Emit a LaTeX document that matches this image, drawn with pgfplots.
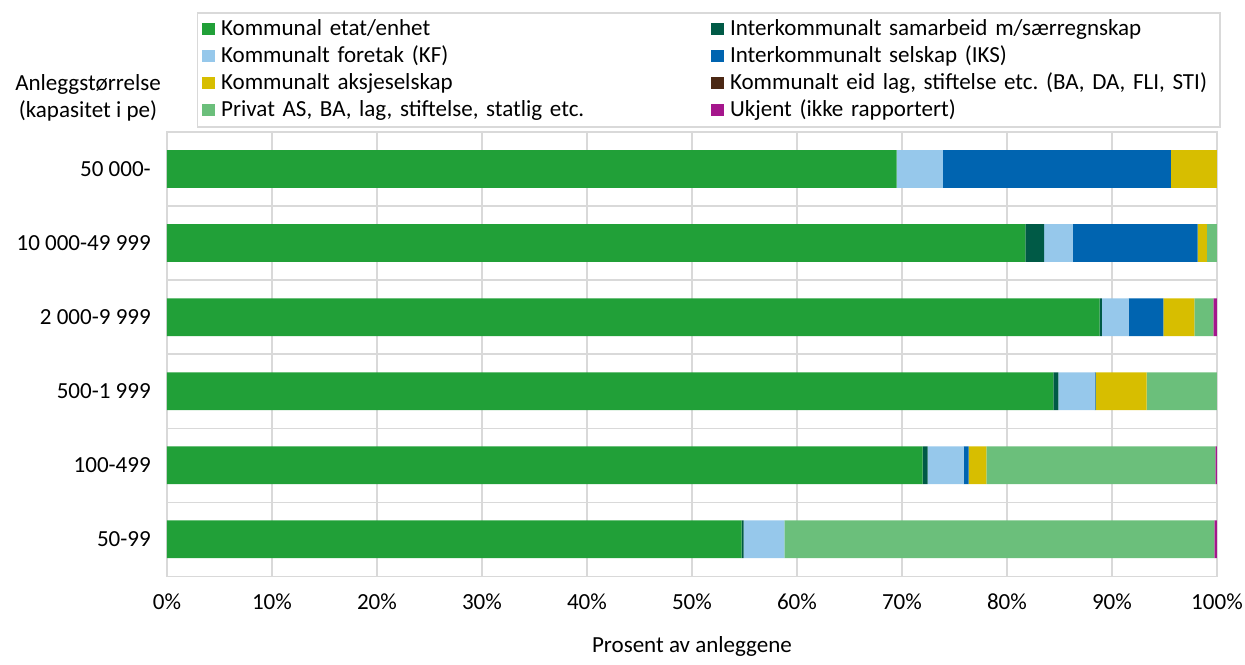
\documentclass[border=0pt]{standalone}
\usepackage{pgfplots}
\pgfplotsset{compat=1.18}
\usepackage{pgfplotstable}
\usepackage{fontspec}
\setmainfont{Carlito}
\frenchspacing

\definecolor{cEtat}{HTML}{21A038}
\definecolor{cSam}{HTML}{005A46}
\definecolor{cKF}{HTML}{96C8EB}
\definecolor{cIKS}{HTML}{0064B0}
\definecolor{cAksje}{HTML}{D7BE00}
\definecolor{cEid}{HTML}{4B2814}
\definecolor{cPrivat}{HTML}{6BBF7B}
\definecolor{cUkjent}{HTML}{A5168C}
\definecolor{gridgray}{HTML}{D9D9D9}

% y: 5 = 50 000-, ..., 0 = 50-99
\pgfplotstableread{
y  etat   sam   kf    iks   aksje privat eid ukjent
5  69.5   0     4.4   21.7  4.4   0      0   0
4  81.75  1.8   2.7   11.9  0.9   0.95   0   0
3  88.83  0.22  2.54  3.3   2.95  1.81   0   0.35
2  84.41  0.48  3.46  0.1   4.86  6.69   0   0
1  71.97  0.47  3.43  0.48  1.7   21.8   0   0.15
0  54.72  0.2   3.87  0     0     40.96  0   0.25
}\anlegg

\begin{document}
\begin{tikzpicture}
\begin{axis}[
    scale only axis,
    width=456pt, height=193pt,
    xbar stacked,
    bar width=0.51,
    xmin=0, xmax=100,
    ymin=-0.5, ymax=5.5,
    xtick={0,10,...,100},
    xticklabel={\pgfmathprintnumber{\tick}\%},
    ytick={0,1,2,3,4,5},
    yticklabels={50-99,100-499,500-1 999,2 000-9 999,10 000-49 999,50 000-},
    minor ytick={-0.5,0.5,...,5.5},
    xmajorgrids, yminorgrids,
    grid style={gridgray, line width=0.6pt},
    minor grid style={gridgray, line width=0.6pt},
    axis line style={gridgray, line width=0.6pt},
    major tick length=0pt, minor tick length=0pt,
    tick label style={font=\normalsize},
    xticklabel style={inner xsep=0pt, yshift=-4pt},
    yticklabel style={xshift=-3.5pt},
    /pgf/number format/assume math mode=true,
    xlabel={Prosent av anleggene},
    xlabel style={yshift=-5pt},
    every axis plot/.append style={draw=none},
    legend columns=2,
    legend cell align=left,
    legend style={
        at={(rel axis cs:0.0286,1.010)}, anchor=south west,
        draw=gridgray, line width=0.6pt,
        column sep=2pt, row sep=1.4pt,
        inner sep=2pt,
        nodes={text width=210pt, align=left, inner sep=0.8pt, font=\normalsize},
    },
    legend image code/.code={\fill[#1] (0pt,-2.7pt) rectangle (5.4pt,2.7pt);},
    clip=false,
]
\addplot[fill=cEtat]   table[x=etat,   y=y] {\anlegg};
\addplot[fill=cSam]    table[x=sam,    y=y] {\anlegg};
\addplot[fill=cKF]     table[x=kf,     y=y] {\anlegg};
\addplot[fill=cIKS]    table[x=iks,    y=y] {\anlegg};
\addplot[fill=cAksje]  table[x=aksje,  y=y] {\anlegg};
\addplot[fill=cEid]    table[x=eid,    y=y] {\anlegg};
\addplot[fill=cPrivat] table[x=privat, y=y] {\anlegg};
\addplot[fill=cUkjent] table[x=ukjent, y=y] {\anlegg};
\legend{Kommunal etat/enhet,
        Interkommunalt samarbeid m/særregnskap,
        Kommunalt foretak (KF),
        Interkommunalt selskap (IKS),
        Kommunalt aksjeselskap,
        {Kommunalt eid lag, stiftelse etc. (BA, DA, FLI, STI)},
        {Privat AS, BA, lag, stiftelse, statlig etc.},
        Ukjent (ikke rapportert)}
\node[align=center, font=\normalsize] at (rel axis cs:-0.0752,1.077)
    {Anleggstørrelse\\(kapasitet i pe)};
\path (rel axis cs:-0.159,1.297) (rel axis cs:1.0267,-0.185);
\end{axis}
\end{tikzpicture}
\end{document}
